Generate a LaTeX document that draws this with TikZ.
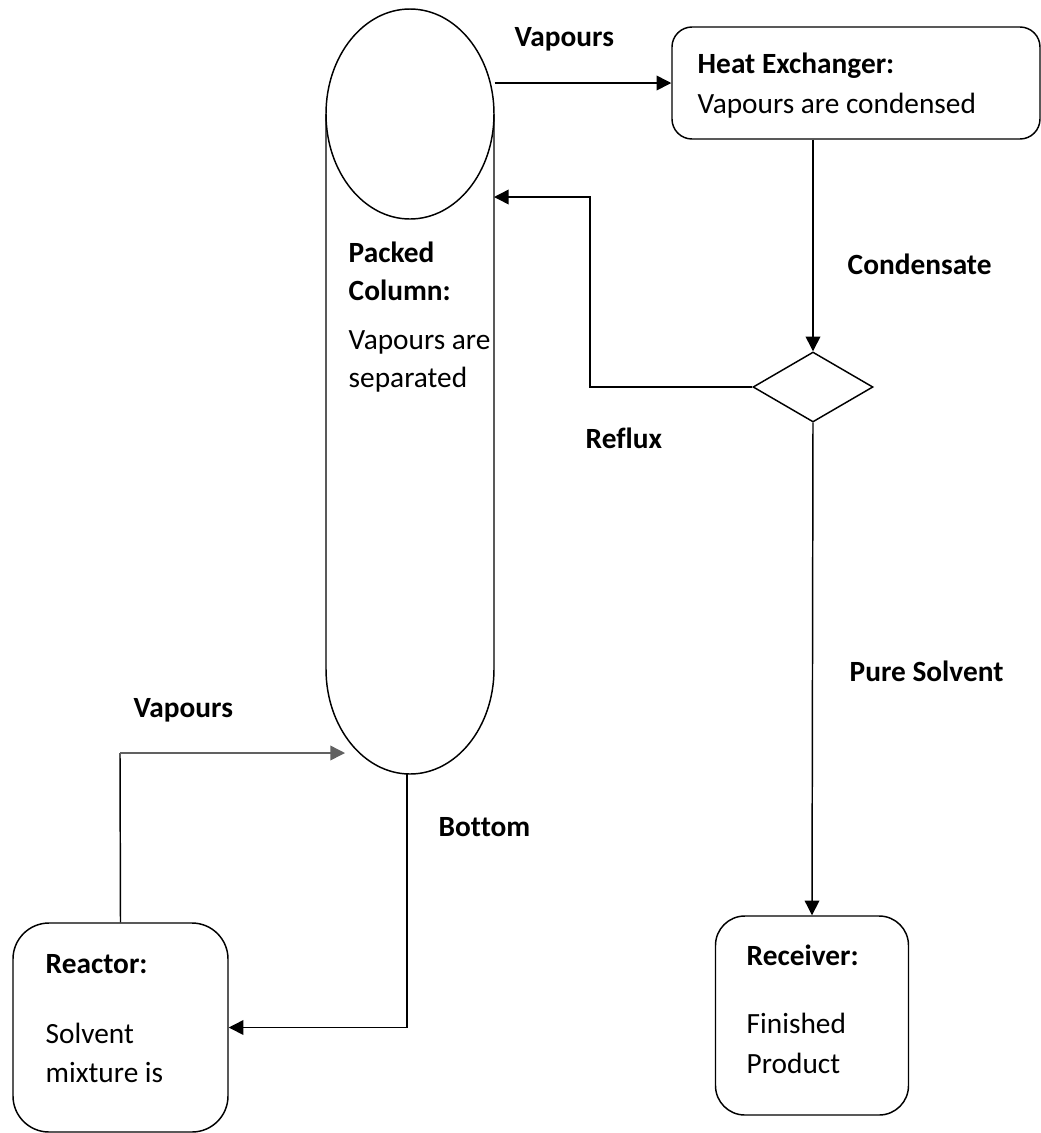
\documentclass[tikz,border=0pt]{standalone}
\usepackage{fontspec}
\setmainfont{Carlito}[Ligatures=NoCommon]
\usetikzlibrary{shapes.geometric,arrows.meta}
\begin{document}
\begin{tikzpicture}[x=0.75pt,y=-0.75pt,
  line width=1.1pt,
  arr/.style={-{Triangle[length=11pt,width=11pt]}},
  txt/.style={anchor=base west,inner sep=0pt,font=\fontsize{22pt}{26pt}\selectfont},
  btxt/.style={txt,font=\fontsize{22pt}{26pt}\selectfont\bfseries},
  box/.style={draw,rounded corners=#1,inner sep=0pt}]
\useasboundingbox (0,0) rectangle (1041,1133);
% packed column
\node[draw,ellipse,inner sep=0pt,minimum width=126pt,minimum height=157.5pt] (colTop) at (410,114) {};
\draw (326,114) -- (326,669) arc[start angle=180,end angle=360,x radius=63pt,y radius=78.75pt] -- (494,114);
\coordinate (colR) at (494,197);
\coordinate (colL) at (345,753);
\coordinate (colB) at (407,774);
% boxes
\node[box=15pt,minimum width=276pt,minimum height=84pt] (hx) at (856,83) {};
\node[draw,diamond,inner sep=0pt,minimum width=90pt,minimum height=52.5pt] (dia) at (813,387) {};
\node[box=22pt,minimum width=144.75pt,minimum height=149.25pt] (rec) at (812,1015.5) {};
\node[box=27pt,minimum width=161.25pt,minimum height=156.75pt] (rea) at (120.5,1027.5) {};
% texts
\node[btxt] (t1) at (697,73) {Heat Exchanger:};
\node[txt] (t2) at (697,113) {Vapours are condensed};
\node[btxt] (t3) at (348,262) {Packed};
\node[btxt] (t4) at (348,300) {Column:};
\node[txt] (t5) at (348,349) {Vapours are};
\node[txt] (t6) at (348,387) {separated};
\node[btxt] (t7) at (746,965) {Receiver:};
\node[txt] (t8) at (746,1033) {Finished};
\node[txt] (t9) at (746,1073) {Product};
\node[btxt] (t10) at (45,973) {Reactor:};
\node[txt] (t11) at (45,1043) {Solvent};
\node[txt] (t12) at (45,1082) {mixture is};
% labels
\node[btxt] (l1) at (514,46) {Vapours};
\node[btxt] (l2) at (847,274) {Condensate};
\node[btxt] (l3) at (585,448) {Reflux};
\node[btxt] (l4) at (849,681) {Pure Solvent};
\node[btxt] (l5) at (133,717) {Vapours};
\node[btxt] (l6) at (438,836) {Bottom};
% connectors
\draw[arr] (hx.west -| colTop.east) -- (hx.west);
\draw[arr] (dia.north |- hx.south) -- (dia.north);
\draw[arr] (dia.west) -- (590,387) |- (colR);
\draw[arr] (dia.south) -- (rec.north);
\draw (rea.north) -- (120,753);
\draw[arr,color=black!62] (120,753) -- (colL);
\draw[arr] (colB) |- (rea.east);
\end{tikzpicture}
\end{document}
